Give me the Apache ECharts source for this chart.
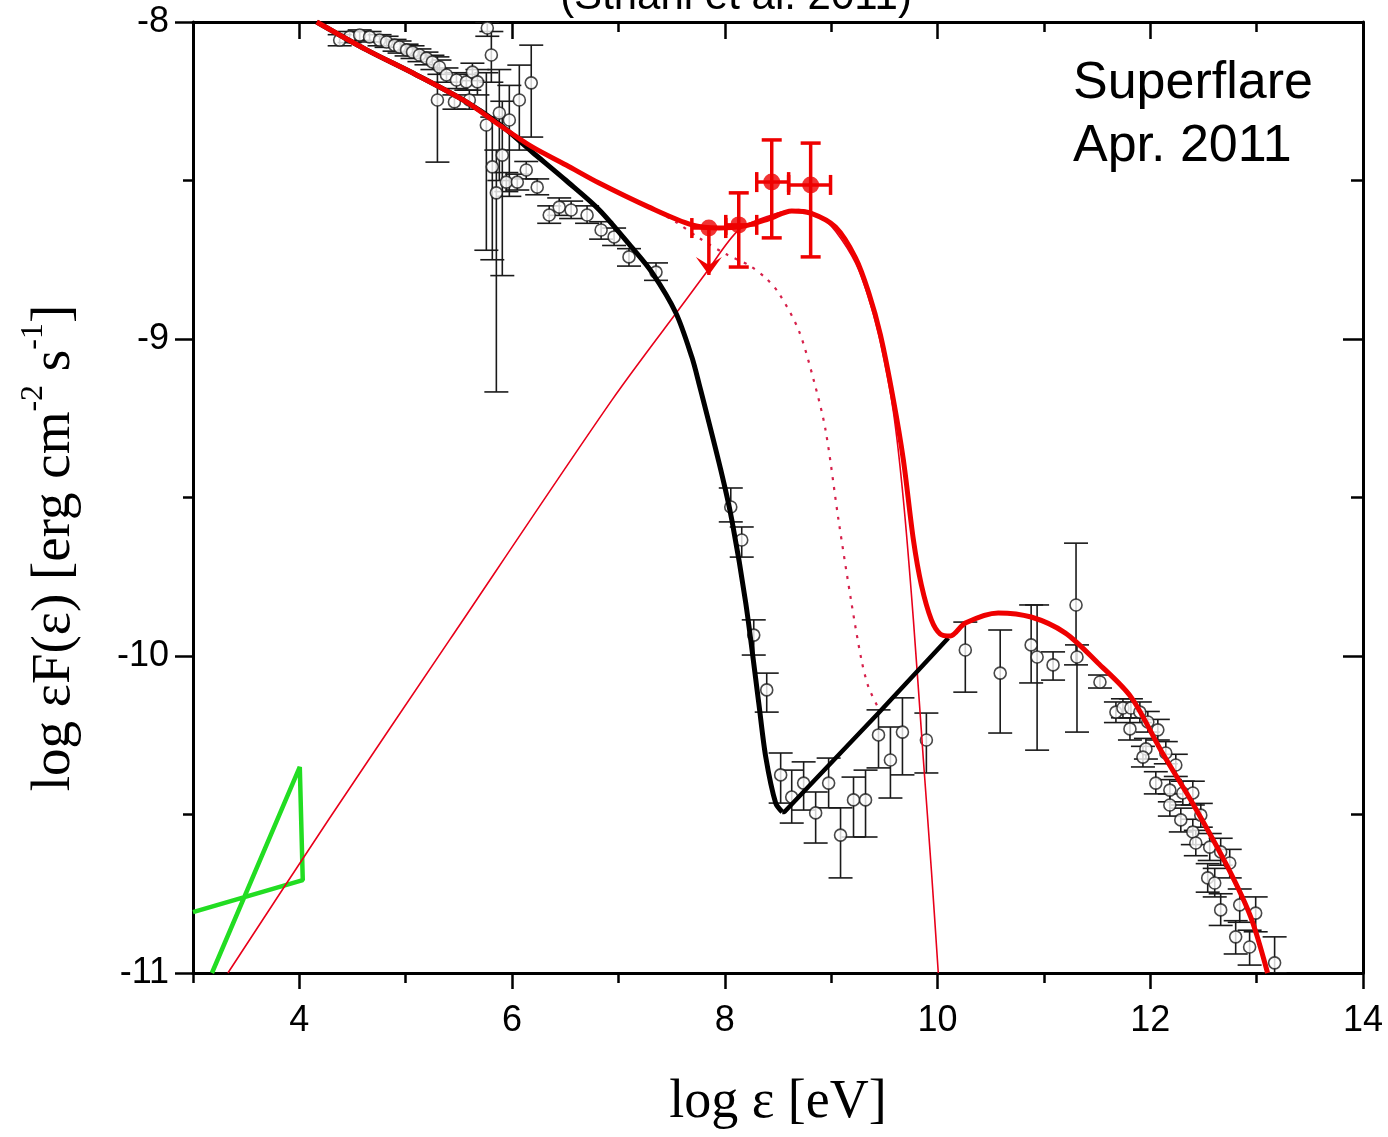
<!DOCTYPE html>
<html><head><meta charset="utf-8">
<script src="https://cdn.jsdelivr.net/npm/echarts@6/dist/echarts.min.js"></script>
<style>html,body{margin:0;padding:0;background:#fff}#c{width:1388px;height:1137px}</style>
</head><body><div id="c"></div>
<script>
// ---------- axis ticks ----------
const xMajorTicks = [4, 6, 8, 10, 12, 14];
const xMinorTicks = [3, 5, 7, 9, 11, 13];
const yMajorTicks = [-8, -9, -10, -11];
const yMinorTicks = [-8.5, -9.5, -10.5];

// ---------- model curves [log eps, log eF] ----------
const synchrotronUpper = [[4.163,-8.000],[4.632,-8.088],[5.101,-8.167],[5.570,-8.252],[5.880,-8.322],[6.189,-8.410],[6.508,-8.500],[6.818,-8.592],[7.128,-8.712],[7.315,-8.790],[7.540,-8.918],[7.690,-9.057],[7.756,-9.139],[7.962,-9.413],[8.066,-9.571],[8.197,-9.833],[8.319,-10.148],[8.385,-10.319],[8.478,-10.464],[8.540,-10.492]];
const synchrotronLower = [[8.540,-10.492],[8.560,-10.492],[9.445,-10.180],[10.101,-9.943]];
const totalModel = [[4.163,-8.000],[4.632,-8.088],[5.101,-8.167],[5.570,-8.252],[5.880,-8.325],[6.189,-8.394],[6.508,-8.451],[6.818,-8.508],[7.287,-8.584],[7.690,-8.640],[7.944,-8.650],[8.178,-8.644],[8.413,-8.621],[8.629,-8.596],[8.807,-8.603],[9.041,-8.647],[9.229,-8.744],[9.351,-8.852],[9.463,-8.987],[9.585,-9.192],[9.679,-9.382],[9.773,-9.634],[9.848,-9.776],[9.942,-9.886],[10.026,-9.931],[10.120,-9.937],[10.261,-9.896],[10.570,-9.864],[10.880,-9.877],[11.199,-9.927],[11.508,-10.022],[11.818,-10.129],[12.099,-10.297],[12.418,-10.476],[12.728,-10.666],[12.944,-10.823],[13.103,-11.000]];
const flareComponent = [[3.328,-11.000],[4.285,-10.511],[5.411,-9.950],[6.940,-9.192],[7.634,-8.877],[7.822,-8.792],[8.131,-8.656],[8.413,-8.612],[8.694,-8.592],[8.900,-8.615],[9.041,-8.660],[9.229,-8.760],[9.351,-8.870],[9.463,-9.010],[9.585,-9.230],[9.679,-9.508],[9.773,-9.886],[9.867,-10.328],[9.942,-10.675],[10.007,-11.000]];
const lowerModel = [[7.287,-8.584],[7.540,-8.631],[7.756,-8.681],[8.009,-8.732],[8.225,-8.767],[8.385,-8.808],[8.507,-8.855],[8.694,-8.972],[8.835,-9.129],[8.947,-9.287],[9.069,-9.571],[9.191,-9.833],[9.285,-10.013],[9.351,-10.098],[9.445,-10.165]];
const bowtie = [[3.000,-10.808],[4.032,-10.707],[4.004,-10.350],[3.178,-11.000]];

// ---------- flare (red) points ----------
const flareX   = [7.850, 8.131, 8.441, 8.807];
const flareY   = [-8.650, -8.640, -8.505, -8.514];
const flareXLo = [7.690, 8.009, 8.300, 8.600];
const flareXHi = [8.009, 8.300, 8.600, 8.994];
const flareYLo = [-8.798, -8.773, -8.681, -8.741];
const flareYHi = [null, -8.539, -8.372, -8.382];
const flareUpperLimit = [true, false, false, false];

// ---------- nebula (open circles): [x, y, yLow, yHigh] ----------
const nebulaLow = [[4.379,-8.057,-8.075,-8.040],[4.473,-8.047,-8.065,-8.030],[4.567,-8.041,-8.058,-8.025],[4.660,-8.047,-8.063,-8.030],[4.754,-8.057,-8.075,-8.040],[4.820,-8.063,-8.080,-8.045],[4.895,-8.073,-8.092,-8.055],[4.942,-8.079,-8.098,-8.060],[5.008,-8.088,-8.107,-8.070],[5.064,-8.095,-8.115,-8.075],[5.129,-8.104,-8.125,-8.085],[5.195,-8.114,-8.135,-8.095],[5.251,-8.126,-8.150,-8.105],[5.317,-8.142,-8.165,-8.120],[5.383,-8.167,-8.190,-8.145],[5.477,-8.183,-8.210,-8.160],[5.570,-8.189,-8.215,-8.165],[5.627,-8.158,-8.185,-8.130],[5.674,-8.189,-8.230,-8.150],[5.298,-8.246,-8.442,-8.110],[5.458,-8.252,-8.275,-8.230],[5.598,-8.246,-8.275,-8.215],[5.758,-8.325,-8.720,-8.160],[5.852,-8.539,-9.167,-8.404],[5.814,-8.457,-8.750,-8.300],[5.908,-8.420,-8.800,-8.250],[5.974,-8.309,-8.550,-8.200],[5.880,-8.287,-8.500,-8.150],[5.805,-8.104,-8.190,-8.030],[5.767,-8.019,-8.045,-8.000],[6.068,-8.246,-8.404,-8.136],[6.180,-8.192,-8.363,-8.073],[5.946,-8.505,-8.535,-8.475],[6.049,-8.505,-8.530,-8.480],[6.133,-8.467,-8.495,-8.440],[6.236,-8.521,-8.545,-8.495],[6.349,-8.609,-8.635,-8.580],[6.443,-8.584,-8.610,-8.555],[6.555,-8.593,-8.620,-8.565],[6.705,-8.609,-8.635,-8.580],[6.837,-8.656,-8.685,-8.630],[6.959,-8.678,-8.705,-8.650],[7.099,-8.741,-8.770,-8.715],[7.353,-8.789,-8.815,-8.760]];
const nebulaGeV = [[8.056,-9.530,-9.577,-9.470],[8.159,-9.634,-9.688,-9.593],[8.272,-9.934,-9.997,-9.886],[8.394,-10.107,-10.177,-10.054],[8.525,-10.375,-10.464,-10.306],[8.629,-10.445,-10.527,-10.360],[8.741,-10.401,-10.486,-10.334],[8.854,-10.495,-10.590,-10.429],[8.976,-10.401,-10.479,-10.322],[9.088,-10.565,-10.700,-10.479],[9.210,-10.454,-10.571,-10.382],[9.323,-10.454,-10.571,-10.360],[9.445,-10.249,-10.353,-10.170],[9.557,-10.328,-10.448,-10.224],[9.670,-10.240,-10.375,-10.132],[9.895,-10.265,-10.369,-10.180]];
const nebulaTeV = [[10.261,-9.981,-10.114,-9.893],[10.589,-10.054,-10.243,-9.918],[10.880,-9.965,-10.085,-9.839],[10.936,-10.003,-10.297,-9.839],[11.086,-10.028,-10.076,-9.987],[11.302,-9.839,-10.028,-9.644],[11.311,-10.003,-10.240,-9.965],[11.527,-10.082,-10.101,-10.060],[11.677,-10.177,-10.210,-10.145],[11.743,-10.164,-10.195,-10.135],[11.818,-10.164,-10.195,-10.135],[11.902,-10.177,-10.210,-10.145],[11.809,-10.230,-10.265,-10.195],[11.977,-10.208,-10.240,-10.175],[12.071,-10.233,-10.265,-10.200],[11.959,-10.293,-10.325,-10.260],[11.931,-10.319,-10.350,-10.285],[12.146,-10.306,-10.340,-10.270],[12.240,-10.344,-10.380,-10.310],[12.052,-10.401,-10.435,-10.365],[12.184,-10.423,-10.460,-10.390],[12.306,-10.432,-10.470,-10.395],[12.400,-10.432,-10.470,-10.395],[12.184,-10.470,-10.505,-10.435],[12.475,-10.502,-10.540,-10.465],[12.287,-10.517,-10.555,-10.480],[12.400,-10.555,-10.595,-10.515],[12.428,-10.590,-10.630,-10.550],[12.559,-10.603,-10.645,-10.560],[12.662,-10.618,-10.660,-10.575],[12.747,-10.653,-10.700,-10.610],[12.540,-10.700,-10.745,-10.655],[12.606,-10.716,-10.760,-10.670],[12.662,-10.801,-10.850,-10.750],[12.841,-10.785,-10.840,-10.735],[12.991,-10.811,-10.870,-10.760],[12.803,-10.886,-10.940,-10.835],[12.934,-10.918,-10.975,-10.865],[13.169,-10.968,-11.000,-10.886]];
const nebulaAll = nebulaLow.concat(nebulaGeV, nebulaTeV);

const flareData = flareX.map((x, i) => [x, flareY[i], flareXLo[i], flareXHi[i], flareYLo[i], flareYHi[i] == null ? NaN : flareYHi[i], flareUpperLimit[i] ? 1 : 0]);

const chart = echarts.init(document.getElementById('c'), null, {renderer: 'canvas'});
const SANS = '"Liberation Sans", Arial, Helvetica, sans-serif';
const SERIF = '"Liberation Serif", "Times New Roman", "DejaVu Serif", serif';

function mkX(pos, ticks, len, inside, showLine, labels) {
  return {
    type: 'value', min: 3, max: 14, position: pos,
    axisLine: {show: showLine, onZero: false, lineStyle: {color: '#000', width: 3}},
    axisTick: {show: true, inside: inside, length: len, customValues: ticks, lineStyle: {color: '#000', width: 2.5}},
    axisLabel: labels ? {show: true, customValues: ticks, fontSize: 36, color: '#000', fontFamily: SANS, margin: 30} : {show: false},
    splitLine: {show: false}
  };
}
function mkY(pos, ticks, len, inside, showLine, labels) {
  return {
    type: 'value', min: -11, max: -8, position: pos,
    axisLine: {show: showLine, onZero: false, lineStyle: {color: '#000', width: 3}},
    axisTick: {show: true, inside: inside, length: len, customValues: ticks, lineStyle: {color: '#000', width: 2.5}},
    axisLabel: labels ? {show: true, customValues: ticks, fontSize: 36, color: '#000', fontFamily: SANS, margin: 24} : {show: false},
    splitLine: {show: false}
  };
}

function errRender(params, api) {
  const x = api.value(0), y = api.value(1), lo = api.value(2), hi = api.value(3);
  const pL = api.coord([x, lo]), pH = api.coord([x, hi]);
  const c = 12, st = {stroke: '#1a1a1a', lineWidth: 1.6};
  return {type: 'group', children: [
    {type: 'line', shape: {x1: pL[0], y1: pL[1], x2: pH[0], y2: pH[1]}, style: st},
    {type: 'line', shape: {x1: pL[0] - c, y1: pL[1], x2: pL[0] + c, y2: pL[1]}, style: st},
    {type: 'line', shape: {x1: pH[0] - c, y1: pH[1], x2: pH[0] + c, y2: pH[1]}, style: st}
  ]};
}

function flareRender(params, api) {
  const x = api.value(0), y = api.value(1), xl = api.value(2), xh = api.value(3);
  const yl = api.value(4), yh = api.value(5), ul = api.value(6);
  const red = '#ee0000', st = {stroke: red, lineWidth: 3.5};
  const pc = api.coord([x, y]), pxl = api.coord([xl, y]), pxh = api.coord([xh, y]);
  const ch = [];
  ch.push({type: 'line', shape: {x1: pxl[0], y1: pc[1], x2: pxh[0], y2: pc[1]}, style: st});
  ch.push({type: 'line', shape: {x1: pxl[0], y1: pc[1] - 10, x2: pxl[0], y2: pc[1] + 10}, style: st});
  ch.push({type: 'line', shape: {x1: pxh[0], y1: pc[1] - 10, x2: pxh[0], y2: pc[1] + 10}, style: st});
  const pl = api.coord([x, yl]);
  if (ul) {
    ch.push({type: 'line', shape: {x1: pc[0], y1: pc[1], x2: pl[0], y2: pl[1]}, style: st});
    ch.push({type: 'polygon', shape: {points: [[pl[0], pl[1]], [pl[0] - 13, pl[1] - 18], [pl[0], pl[1] - 10], [pl[0] + 13, pl[1] - 18]]}, style: {fill: red}});
  } else {
    const ph = api.coord([x, yh]);
    ch.push({type: 'line', shape: {x1: pc[0], y1: pl[1], x2: pc[0], y2: ph[1]}, style: st});
    ch.push({type: 'line', shape: {x1: pc[0] - 10, y1: pl[1], x2: pc[0] + 10, y2: pl[1]}, style: st});
    ch.push({type: 'line', shape: {x1: pc[0] - 10, y1: ph[1], x2: pc[0] + 10, y2: ph[1]}, style: st});
  }
  return {type: 'group', children: ch};
}

const lineBase = {type: 'line', showSymbol: false, symbol: 'none', smooth: 0.3, clip: true, xAxisIndex: 0, yAxisIndex: 0, animation: false};

chart.setOption({
  animation: false,
  backgroundColor: '#fff',
  grid: {left: 193, right: 25, top: 22, bottom: 164, containLabel: false},
  xAxis: [
    mkX('bottom', xMajorTicks, 16, false, true, true),
    mkX('bottom', xMinorTicks, 10, false, false, false),
    mkX('top', xMajorTicks, 17, true, true, false),
    mkX('top', xMinorTicks, 10, true, false, false)
  ],
  yAxis: [
    mkY('left', yMajorTicks, 18, false, true, true),
    mkY('left', yMinorTicks, 10, false, false, false),
    mkY('right', yMajorTicks, 20, true, true, false),
    mkY('right', yMinorTicks, 12, true, false, false)
  ],
  graphic: [
    {type: 'text', x: 736, y: -3, z: 100, style: {text: '(Striani et al. 2011)', font: '42px ' + SANS, fill: '#000', align: 'center', verticalAlign: 'middle'}},
    {type: 'text', left: 1073, top: 52, z: 100, style: {text: 'Superflare\nApr. 2011', font: '52px ' + SANS, fill: '#000', lineHeight: 63}},
    {type: 'text', x: 50, y: 548, rotation: Math.PI / 2, z: 100, style: {
      text: '{a|log εF(ε) [erg cm}{s|-2}{a| s}{s|-1}{a|]}',
      align: 'center', verticalAlign: 'middle',
      rich: {
        a: {fontFamily: SERIF, fontSize: 55, fill: '#000', lineHeight: 64, verticalAlign: 'bottom'},
        s: {fontFamily: SERIF, fontSize: 32, fill: '#000', lineHeight: 64, verticalAlign: 'top'}
      }
    }},
    {type: 'text', x: 778, y: 1103, z: 100, style: {text: 'log ε [eV]', font: '54px ' + SERIF, fill: '#000', align: 'center', verticalAlign: 'middle'}}
  ],
  series: [
    {type: 'custom', name: 'nebula err', renderItem: errRender, data: nebulaAll, encode: {x: 0, y: 1}, z: 1, clip: true, animation: false},
    {type: 'scatter', name: 'nebula', data: nebulaAll.map(d => [d[0], d[1]]), symbol: 'circle', symbolSize: 12, itemStyle: {color: '#fff', borderColor: '#1a1a1a', borderWidth: 1.6}, z: 2, animation: false},
    Object.assign({}, lineBase, {name: 'bowtie', data: bowtie, smooth: false, lineStyle: {color: '#22dd22', width: 4.5}, z: 3}),
    Object.assign({}, lineBase, {name: 'flare component', data: flareComponent, lineStyle: {color: '#e8001a', width: 1.6}, z: 4}),
    Object.assign({}, lineBase, {name: 'lower', data: lowerModel, lineStyle: {color: '#d6204a', width: 2.2, type: [3, 7]}, z: 4}),
    Object.assign({}, lineBase, {name: 'synchrotron', data: synchrotronUpper, lineStyle: {color: '#000', width: 5}, z: 5}),
    Object.assign({}, lineBase, {name: 'synchrotron rise', data: synchrotronLower, smooth: false, lineStyle: {color: '#000', width: 4.5}, z: 5}),
    Object.assign({}, lineBase, {name: 'total', data: totalModel, lineStyle: {color: '#ee0000', width: 5}, z: 6}),
    {type: 'custom', name: 'flare err', renderItem: flareRender, data: flareData, encode: {x: 0, y: 1}, z: 7, animation: false},
    {type: 'scatter', name: 'flare', data: flareX.map((x, i) => [x, flareY[i]]), symbol: 'circle', symbolSize: 17, itemStyle: {color: '#ee0000'}, z: 8, animation: false}
  ]
});
</script></body></html>
